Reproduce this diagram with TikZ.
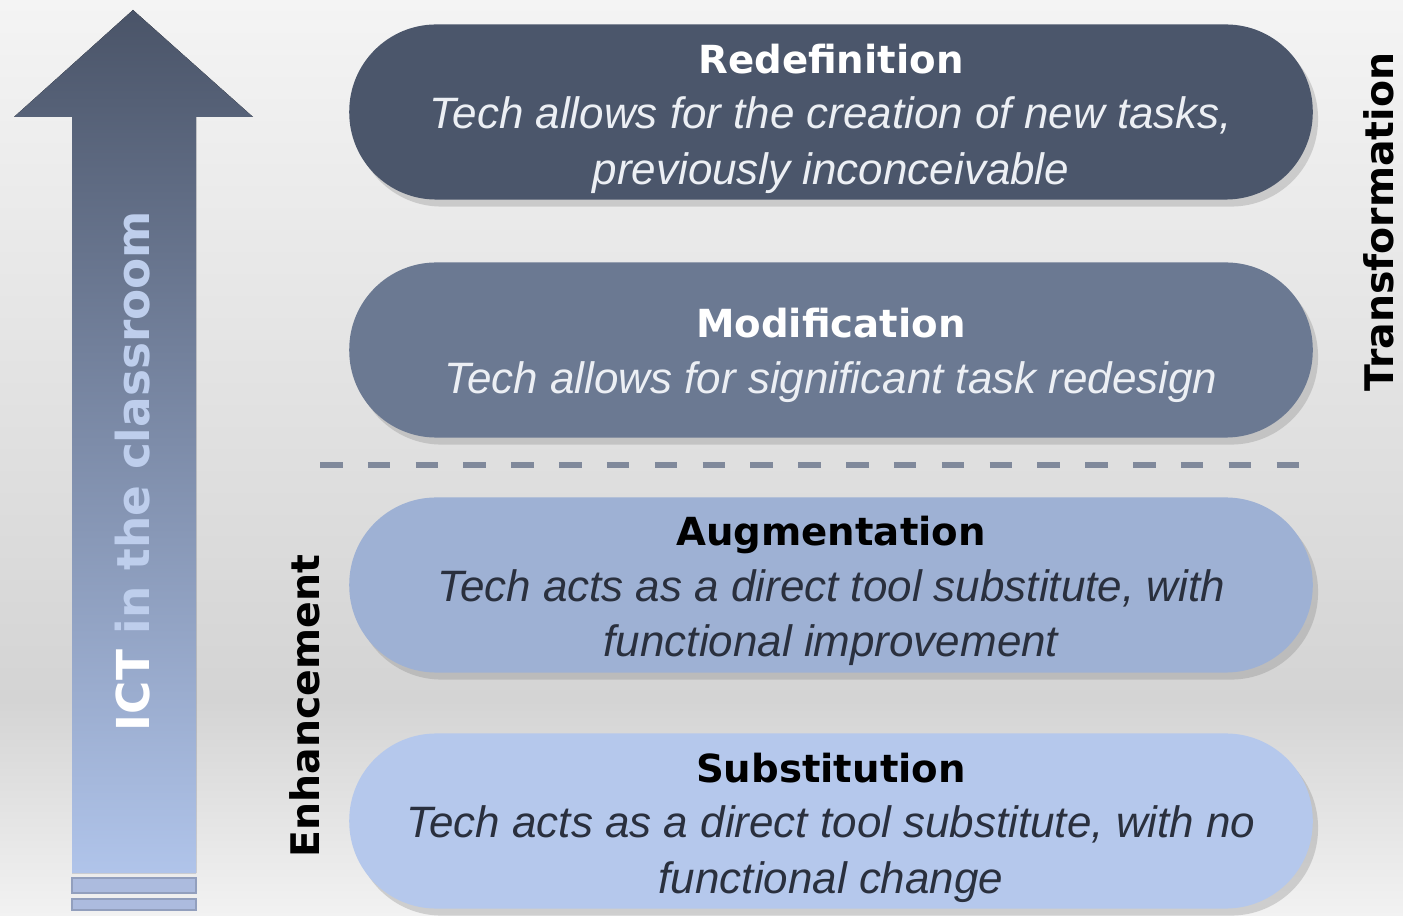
\documentclass[tikz,border=0pt]{standalone}
\usepackage{fontspec}
\setmainfont{Liberation Sans}
\newfontfamily\headfont{DejaVu Sans}
\usetikzlibrary{shadows}

\definecolor{redefcolor}{RGB}{75,86,107}
\definecolor{modifcolor}{RGB}{107,121,146}
\definecolor{augmcolor}{RGB}{158,177,212}
\definecolor{substcolor}{RGB}{181,200,236}
\definecolor{arrowtop}{RGB}{74,84,104}
\definecolor{arrowbot}{RGB}{176,196,234}
\definecolor{stripecolor}{RGB}{172,187,222}
\definecolor{bgtop}{RGB}{244,244,244}
\definecolor{bgmid}{RGB}{212,212,212}
\definecolor{bgbot}{RGB}{242,242,242}
\definecolor{dashcolor}{RGB}{128,137,155}
\definecolor{lighttext}{RGB}{236,239,244}
\definecolor{darktext}{RGB}{42,48,62}
\definecolor{ictblue}{RGB}{190,206,236}

\tikzset{
  levelbox/.style={minimum width=9.63cm, minimum height=1.75cm,
    rounded corners=0.87cm, inner sep=0pt,
    drop shadow={shadow xshift=1.5pt, shadow yshift=-2pt, opacity=0.3}},
  leveltext/.style={align=center, inner sep=0pt,
    font=\fontsize{12.5}{15.7}\selectfont\itshape},
  sidelabel/.style={rotate=90, font=\headfont\bfseries\fontsize{11.2}{13}\selectfont},
  sepline/.style={dashcolor, line width=1.6pt, dash pattern=on 6.4pt off 7.2pt},
}
\newcommand{\leveltitle}[1]{{\headfont\bfseries\upshape\fontsize{11}{15.7}\selectfont #1}}

\begin{document}
\begin{tikzpicture}[x=0.01cm, y=-0.01cm]
\useasboundingbox (0,0) rectangle (1403,916);
% background
\fill[top color=bgtop, bottom color=bgmid] (0,0) rectangle (1403,700);
\fill[top color=bgmid, bottom color=bgbot] (0,700) rectangle (1403,916);

% arrow
\fill[top color=arrowtop, bottom color=arrowbot]
  (133,10) -- (253,117) -- (196,117) -- (196,873) -- (72,873) -- (72,117) -- (14,117) -- cycle;
\fill[stripecolor, draw=stripecolor!85!black, line width=0.3pt] (72,878) rectangle (196,893);
\fill[stripecolor, draw=stripecolor!85!black, line width=0.3pt] (72,899) rectangle (196,910);
\node[rotate=90, font=\headfont\bfseries\fontsize{12.9}{15}\selectfont] (ict) at (133,471)
  {\textcolor{white}{ICT} \textcolor{ictblue}{in the classroom}};

% levels
\node[levelbox, fill=redefcolor] (redef) at (831,112) {};
\node[levelbox, fill=modifcolor] (modif) at (831,350) {};
\node[levelbox, fill=augmcolor] (augm) at (831,585) {};
\node[levelbox, fill=substcolor] (subst) at (831,821) {};

\node[leveltext, text=lighttext] (redef-txt) at ([yshift=-1.9pt]redef.center)
  {\textcolor{white}{\leveltitle{Redefinition}}\\Tech allows for the creation of new tasks,\\previously inconceivable};
\node[leveltext, text=lighttext] (modif-txt) at ([yshift=-1.5pt]modif.center)
  {\textcolor{white}{\leveltitle{Modification}}\\Tech allows for significant task redesign};
\node[leveltext, text=darktext] (augm-txt) at ([yshift=-1.7pt]augm.center)
  {\textcolor{black}{\leveltitle{Augmentation}}\\Tech acts as a direct tool substitute, with\\functional improvement};
\node[leveltext, text=darktext] (subst-txt) at ([yshift=-1.9pt]subst.center)
  {\textcolor{black}{\leveltitle{Substitution}}\\Tech acts as a direct tool substitute, with no\\functional change};

\coordinate (sepL) at (320,465);
\coordinate (sepR) at (1316,465);
\draw[sepline] (sepL) -- (sepR);

\node[sidelabel] (trans) at (1379,222) {Transformation};
\node[sidelabel] (enh) at (305,706) {Enhancement};
\end{tikzpicture}
\end{document}
